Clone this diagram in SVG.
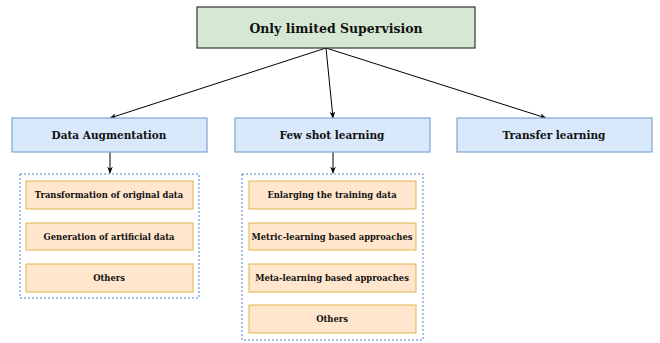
<svg xmlns="http://www.w3.org/2000/svg" width="660" height="343" viewBox="0 0 660 343">
  <defs>
    <marker id="arrow" viewBox="0 0 10 10" refX="9" refY="5" markerWidth="7" markerHeight="7" orient="auto" markerUnits="userSpaceOnUse">
      <path d="M0,1 L10,5 L0,9 L3,5 Z" fill="#000"/>
    </marker>
    <style>
      text { font-family: "DejaVu Serif", "Liberation Serif", serif; font-weight: bold; fill: #111; text-anchor: middle; dominant-baseline: central; }
      .root rect { fill: #d5e8d4; stroke: #333; stroke-width: 1.2; }
      .root text { font-size: 12.5px; }
      .cat rect { fill: #dae8fc; stroke: #7ea6d8; stroke-width: 1.2; }
      .cat text { font-size: 10.5px; }
      .item rect { fill: #ffe6cc; stroke: #e3b448; stroke-width: 1; }
      .item text { font-size: 8.4px; }
      .group { fill: none; stroke: #4a80c4; stroke-width: 1; stroke-dasharray: 2 2; }
      .edge { stroke: #000; stroke-width: 1; fill: none; marker-end: url(#arrow); }
    </style>
  </defs>
  <rect width="660" height="343" fill="#fff"/>

  <g id="connectors">
    <line class="edge" x1="326" y1="48" x2="110" y2="118"/>
    <line class="edge" x1="326" y1="48" x2="333" y2="118"/>
    <line class="edge" x1="326" y1="48" x2="546" y2="118"/>
    <line class="edge" x1="110" y1="152" x2="110" y2="173"/>
    <line class="edge" x1="333" y1="152" x2="333" y2="173"/>
  </g>

  <g id="root" class="root">
    <rect x="197" y="7" width="278" height="41"/>
    <text x="336" y="28">Only limited Supervision</text>
  </g>

  <g id="data-augmentation" class="cat">
    <rect x="12" y="118" width="195" height="34"/>
    <text x="109" y="135">Data Augmentation</text>
  </g>
  <g id="few-shot" class="cat">
    <rect x="235" y="118" width="195" height="34"/>
    <text x="332" y="135">Few shot learning</text>
  </g>
  <g id="transfer" class="cat">
    <rect x="457" y="118" width="195" height="34"/>
    <text x="554" y="135">Transfer learning</text>
  </g>

  <g id="da-group">
    <rect class="group" x="20" y="174" width="179" height="124"/>
  </g>
  <g id="da-transform" class="item">
    <rect x="26" y="181" width="167" height="28"/>
    <text x="109" y="195">Transformation of original data</text>
  </g>
  <g id="da-generation" class="item">
    <rect x="26" y="223" width="167" height="27"/>
    <text x="109" y="236.5">Generation of artificial data</text>
  </g>
  <g id="da-others" class="item">
    <rect x="26" y="264" width="167" height="28"/>
    <text x="109" y="278">Others</text>
  </g>

  <g id="fs-group">
    <rect class="group" x="242" y="174" width="181" height="166"/>
  </g>
  <g id="fs-enlarge" class="item">
    <rect x="249" y="181" width="167" height="28"/>
    <text x="332" y="195">Enlarging the training data</text>
  </g>
  <g id="fs-metric" class="item">
    <rect x="249" y="223" width="167" height="27"/>
    <text x="332" y="236.5">Metric-learning based approaches</text>
  </g>
  <g id="fs-meta" class="item">
    <rect x="249" y="264" width="167" height="28"/>
    <text x="332" y="278">Meta-learning based approaches</text>
  </g>
  <g id="fs-others" class="item">
    <rect x="249" y="305" width="167" height="28"/>
    <text x="332" y="319">Others</text>
  </g>
</svg>
